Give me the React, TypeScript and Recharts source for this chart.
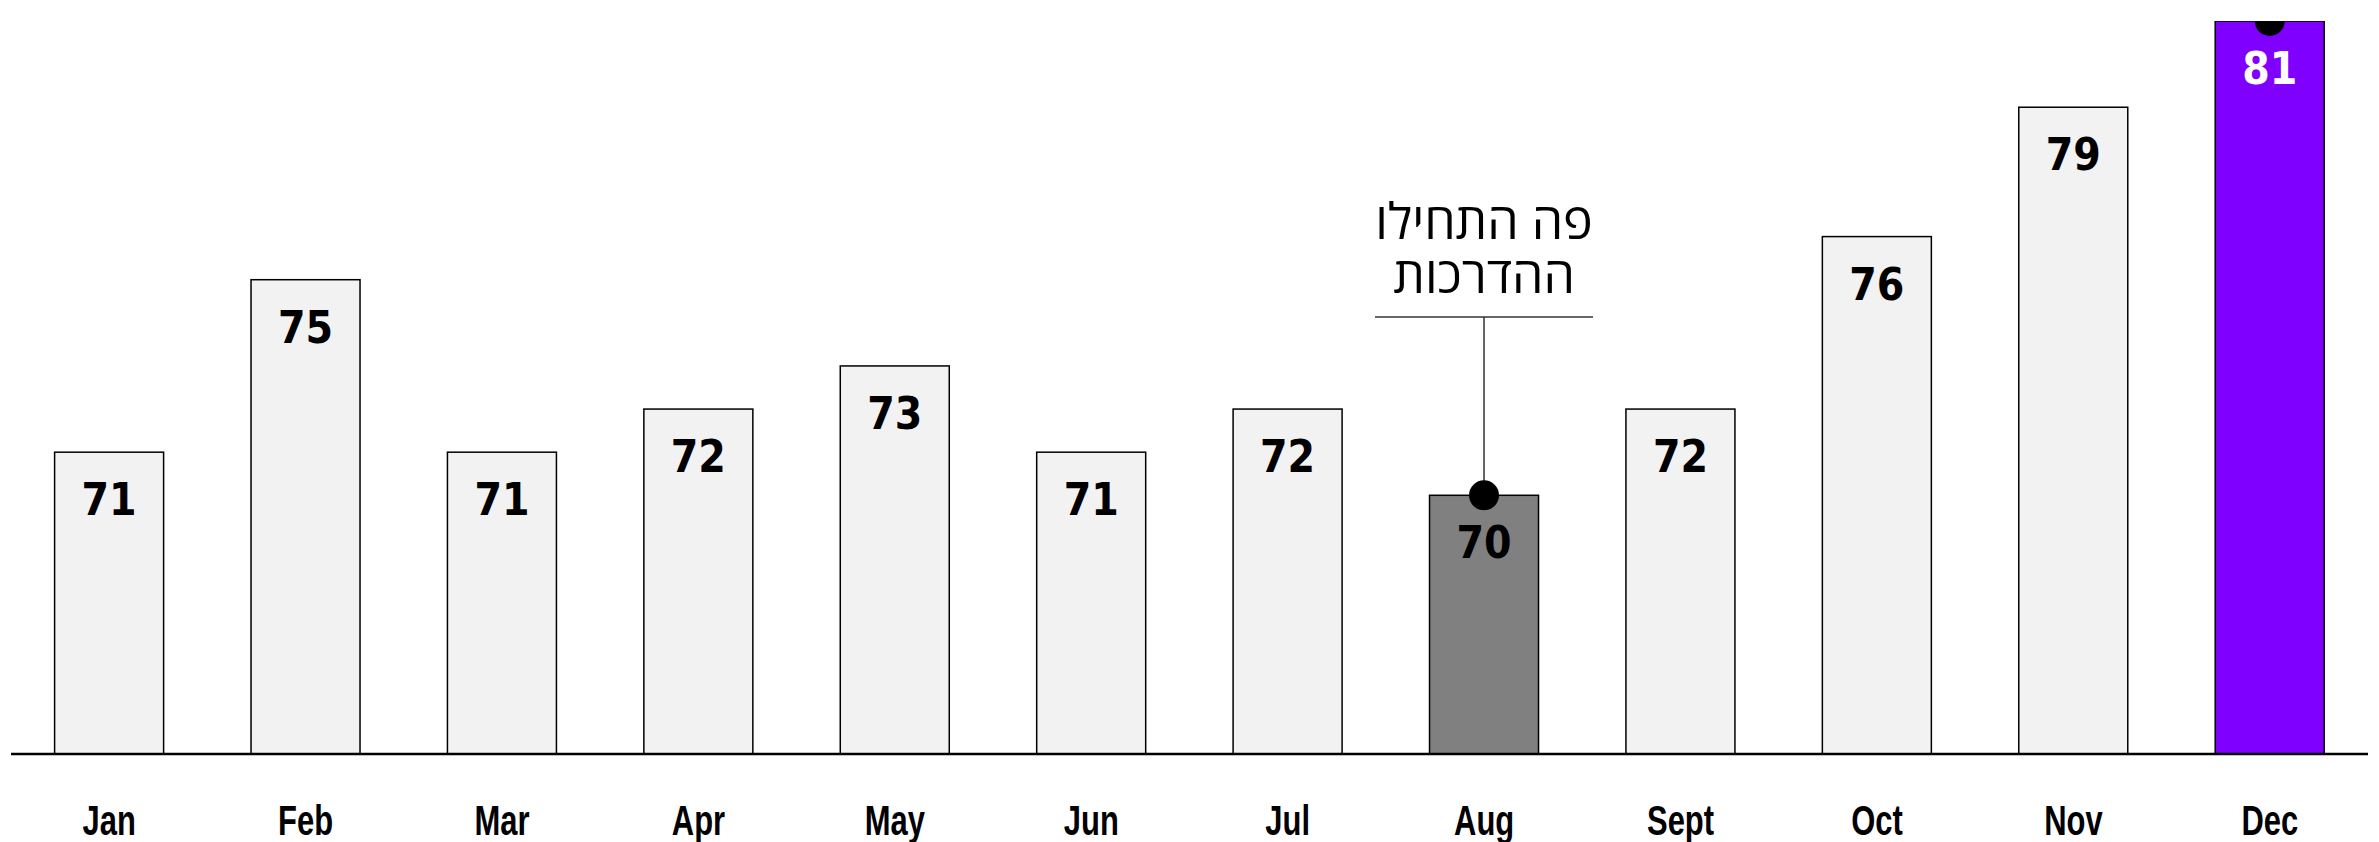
import React from 'react';
import { BarChart, Bar, XAxis, YAxis, Cell, LabelList } from 'recharts';

const months = ['Jan', 'Feb', 'Mar', 'Apr', 'May', 'Jun', 'Jul', 'Aug', 'Sept', 'Oct', 'Nov', 'Dec'];
const scores = [71, 75, 71, 72, 73, 71, 72, 70, 72, 76, 79, 81];
const annotationLines = ['פה התחילו', 'ההדרכות'];
const highlightMonth = 'Aug';
const latestMonth = 'Dec';

const data = months.map((month, i) => ({ month, score: scores[i] }));

const barFill = (month: string) =>
  month === latestMonth ? '#7f00ff' : month === highlightMonth ? '#808080' : '#f2f2f2';

const BarShape = (props: any) => {
  const { x, y, width, height, payload } = props;
  const cx = x + width / 2;
  return (
    <g>
      <rect x={x} y={y} width={width} height={height} fill={barFill(payload.month)} stroke="#000" strokeWidth={1.5} />
      {payload.month === highlightMonth && (
        <g>
          <line x1={cx} y1={y} x2={cx} y2={309} stroke="#333" strokeWidth={1.5} />
          <line x1={cx - 109} y1={309} x2={cx + 109} y2={309} stroke="#333" strokeWidth={1.5} />
          {annotationLines.map((t, i) => (
            <text
              key={t}
              x={cx}
              y={231 + i * 54}
              textAnchor="middle"
              direction="rtl"
              fontFamily="'Open Sans', 'DejaVu Sans', sans-serif"
              fontSize={50}
              fill="#000"
            >
              {t}
            </text>
          ))}
          <circle cx={cx} cy={y} r={15} fill="#000" />
        </g>
      )}
      {payload.month === latestMonth && (
        <g>
          <line x1={cx} y1={0} x2={cx} y2={y} stroke="#333" strokeWidth={1.5} />
          <circle cx={cx} cy={y} r={15} fill="#000" />
        </g>
      )}
    </g>
  );
};

const ValueLabel = (props: any) => {
  const { x, y, width, value, index } = props;
  const isLatest = months[index] === latestMonth;
  return (
    <text
      x={x + width / 2}
      y={y + 63}
      textAnchor="middle"
      fontFamily="'DejaVu Sans Condensed', 'DejaVu Sans', sans-serif"
      fontWeight="bold"
      fontSize={44}
      fill={isLatest ? '#fff' : '#000'}
    >
      {value}
    </text>
  );
};

const MonthTick = (props: any) => {
  const { x, y, payload } = props;
  return (
    <g transform={`translate(${x},${y + 81})`}>
      <text
        transform="scale(0.72,1)"
        textAnchor="middle"
        fontFamily="'Liberation Sans Narrow', 'Liberation Sans', sans-serif"
        fontWeight="bold"
        fontSize={43}
        fill="#000"
      >
        {payload.value}
      </text>
    </g>
  );
};

export default function App() {
  return (
    <div style={{ width: 2363, height: 834 }}>
      <BarChart
        width={2363}
        height={834}
        data={data}
        margin={{ top: 13, right: 3, left: 3, bottom: 8 }}
        barCategoryGap="22.2%"
      >
        <XAxis
          dataKey="month"
          height={80}
          tickSize={0}
          tickMargin={0}
          axisLine={{ stroke: '#000', strokeWidth: 2.5 }}
          tickLine={false}
          tick={<MonthTick />}
          interval={0}
        />
        <YAxis hide domain={[64, 81]} allowDataOverflow />
        <Bar dataKey="score" shape={<BarShape />} isAnimationActive={false}>
          {data.map((d) => (
            <Cell key={d.month} fill={barFill(d.month)} />
          ))}
          <LabelList dataKey="score" content={<ValueLabel />} />
        </Bar>
      </BarChart>
    </div>
  );
}
